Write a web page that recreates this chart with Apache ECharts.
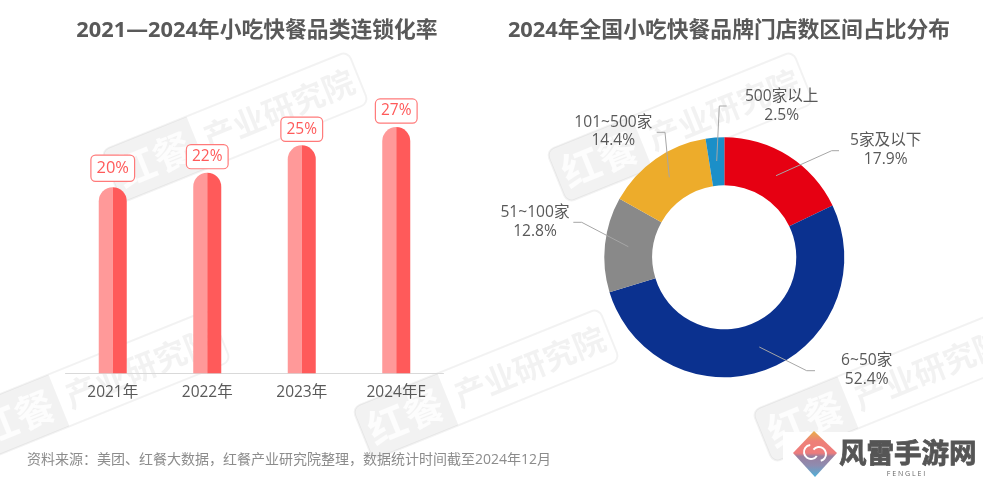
<!DOCTYPE html>
<html lang="zh-CN">

<head>
    <meta charset="UTF-8">
    <title>小吃快餐品类连锁化率</title>
    <script src="https://cdn.jsdelivr.net/npm/echarts@6/dist/echarts.min.js"></script>
    <style>
        html, body { margin: 0; padding: 0; background: #fff; }
        #main { width: 983px; height: 480px; }
    </style>
</head>

<body>
    <div id="main"></div>

    <script>
        var years = ['2021年', '2022年', '2023年', '2024年E'];
        var chainRate = [20.4, 22, 25, 27];
        var sizeNames = ['5家及以下', '6~50家', '51~100家', '101~500家', '500家以上'];
        var sizeShare = [17.9, 52.4, 12.8, 14.4, 2.5];
        var sizeColors = ['#E60012', '#0B318F', '#898989', '#EDAC2B', '#1B8FC8'];

        // label centre and leader line for each slice, in page pixels
        var pieLabelAt = [[885.7, 150], [866.7, 370], [535, 222], [613.3, 131.6], [781.7, 105.8]];
        var pieLeaders = [
            [[776, 175.7], [831.7, 150.7], [839, 150.7]],
            [[759.3, 347], [806.7, 370.7], [815, 370.7]],
            [[628.3, 246.7], [581.7, 222.3], [573.3, 222.3]],
            [[669.3, 177.3], [665, 132.3], [656.7, 132.3]],
            [[716.7, 161], [719.3, 106], [726.7, 106]]
        ];
        var watermarkAt = [[235, 127], [680, 127], [97, 385], [486, 384], [886, 387]];
        var sourceText = '资料来源\uFF1A美团、红餐大数据\uFF0C红餐产业研究院整理\uFF0C数据统计时间截至2024年12月';

        var FONT = '"Open Sans", "Noto Sans CJK SC", sans-serif';
        var GREY = 'rgba(0,0,0,0.05)';

        function watermark(pos) {
            return {
                type: 'group', x: pos[0], y: pos[1], rotation: 22 * Math.PI / 180, z: 3, silent: true,
                children: [
                    { type: 'rect', shape: { x: -133, y: -28, width: 266, height: 56, r: 8 }, style: { fill: 'none', stroke: GREY, lineWidth: 2 } },
                    { type: 'rect', shape: { x: -133, y: -28, width: 92, height: 56, r: [8, 0, 0, 8] }, style: { fill: GREY } },
                    { type: 'text', x: -87, y: 0, style: { text: '红餐', font: 'bold 39px "Noto Sans CJK SC"', fill: 'rgba(255,255,255,0.8)', align: 'center', verticalAlign: 'middle' } },
                    { type: 'text', x: 47, y: 0, style: { text: '产业研究院', font: 'bold 32px "Noto Sans CJK SC"', fill: 'rgba(0,0,0,0.05)', align: 'center', verticalAlign: 'middle' } }
                ]
            };
        }

        var pieData = sizeNames.map(function (n, i) {
            return { name: n, value: sizeShare[i], itemStyle: { color: sizeColors[i] } };
        });

        // the first tag is drawn a little larger than the others in the original
        var tagData = chainRate.map(function (v, i) {
            return i === 0
                ? { value: v, label: { fontSize: 16.5, lineHeight: 18, padding: [3.5, 5], distance: 6 } }
                : v;
        });

        var chart = echarts.init(document.getElementById('main'));
        chart.setOption({
            animation: false,
            textStyle: { fontFamily: FONT },
            title: [
                { text: '2021—2024年小吃快餐品类连锁化率', left: 252, top: 15, textAlign: 'center', textStyle: { fontSize: 21.8, fontWeight: 'bold', color: '#595959', fontFamily: FONT } },
                { text: '2024年全国小吃快餐品牌门店数区间占比分布', left: 724, top: 15, textAlign: 'center', textStyle: { fontSize: 21.8, fontWeight: 'bold', color: '#595959', fontFamily: FONT } }
            ],
            grid: { left: 65.5, width: 378, top: 99.7, height: 273.6, containLabel: false },
            xAxis: {
                type: 'category',
                data: years,
                axisLine: { lineStyle: { color: '#D9D9D9', width: 1 } },
                axisTick: { show: false },
                axisLabel: { color: '#595959', fontSize: 15.5, margin: 12, interval: 0 }
            },
            yAxis: { type: 'value', min: 0, max: 30, show: false },
            series: [
                {
                    type: 'bar', data: chainRate, barWidth: 14, barGap: 0, z: 2,
                    itemStyle: { color: '#FF9999', borderRadius: [14, 0, 0, 0] }
                },
                {
                    type: 'bar', data: chainRate, barWidth: 14, barGap: 0, z: 2,
                    itemStyle: { color: '#FF5A5A', borderRadius: [0, 14, 0, 0] }
                },
                {
                    // invisible carrier so the value tags sit centred on the category
                    type: 'line', data: tagData, symbol: 'circle', symbolSize: 1, showSymbol: true, z: 5,
                    lineStyle: { opacity: 0 },
                    itemStyle: { color: 'transparent' },
                    label: {
                        show: true, position: 'top', distance: 4,
                        formatter: function (p) { return Math.round(p.value) + '%'; },
                        color: '#FF5A5A', fontSize: 15.5, lineHeight: 17,
                        backgroundColor: '#fff', borderColor: '#FF7A7A', borderWidth: 1.2, borderRadius: 4,
                        padding: [3, 5]
                    }
                },
                {
                    type: 'pie',
                    center: [724.3, 257.3],
                    radius: [72, 120],
                    startAngle: 90,
                    z: 2,
                    data: pieData,
                    label: { show: false },
                    labelLine: { show: false }
                },
                {
                    // same pie again, see-through, so the leader lines lie on top of the ring
                    type: 'pie',
                    center: [724.3, 257.3],
                    radius: [72, 120],
                    startAngle: 90,
                    z: 4,
                    silent: true,
                    avoidLabelOverlap: false,
                    data: sizeNames.map(function (n, i) {
                        return { name: n, value: sizeShare[i] };
                    }),
                    itemStyle: { color: 'transparent' },
                    label: {
                        formatter: function (p) { return p.name + '\n' + p.value.toFixed(1) + '%'; },
                        color: '#595959', fontSize: 15.6, lineHeight: 18.5, align: 'center'
                    },
                    labelLine: { show: true, lineStyle: { color: '#A6A6A6', width: 1 } },
                    labelLayout: function (p) {
                        var i = p.dataIndex;
                        return {
                            x: pieLabelAt[i][0], y: pieLabelAt[i][1],
                            align: 'center', verticalAlign: 'middle',
                            labelLinePoints: pieLeaders[i]
                        };
                    }
                }
            ],
            graphic: watermarkAt.map(watermark).concat([
                { type: 'rect', z: 4, shape: { x: 783, y: 432, width: 200, height: 48 }, style: { fill: '#fff' } },
                {
                    type: 'polygon', z: 5,
                    shape: { points: [[814, 431], [837, 453], [815, 477], [793, 453]] },
                    style: {
                        fill: new echarts.graphic.LinearGradient(0, 0, 0, 1, [
                            { offset: 0, color: '#E8B048' },
                            { offset: 0.22, color: '#EE8078' },
                            { offset: 0.48, color: '#EE7C7C' },
                            { offset: 0.55, color: '#9A7F9F' },
                            { offset: 0.75, color: '#8E8CB0' },
                            { offset: 1, color: '#4FB0D8' }
                        ])
                    }
                },
                { type: 'arc', z: 6, shape: { cx: 811, cy: 452, r: 7, startAngle: 0.6, endAngle: 4.6 }, style: { fill: 'none', stroke: '#fff', lineWidth: 2 } },
                { type: 'arc', z: 6, shape: { cx: 819, cy: 454, r: 7, startAngle: 3.8, endAngle: 7.6 }, style: { fill: 'none', stroke: '#fff', lineWidth: 2 } },
                { type: 'text', z: 6, x: 839, y: 453, style: { text: '风雷手游网', font: 'bold 27.5px "Noto Sans CJK SC"', fill: '#555', stroke: '#555', lineWidth: 0.8, verticalAlign: 'middle' } },
                { type: 'text', z: 6, x: 906, y: 474, style: { text: 'F E N G L E I', font: '7px "Open Sans"', fill: '#666', align: 'center', verticalAlign: 'middle' } },
                { type: 'text', z: 6, x: 27, y: 460, style: { text: sourceText, font: '14px "Open Sans", "Noto Sans CJK SC"', fill: '#8C8C8C', verticalAlign: 'middle' } }
            ])
        });
    </script>
</body>

</html>
